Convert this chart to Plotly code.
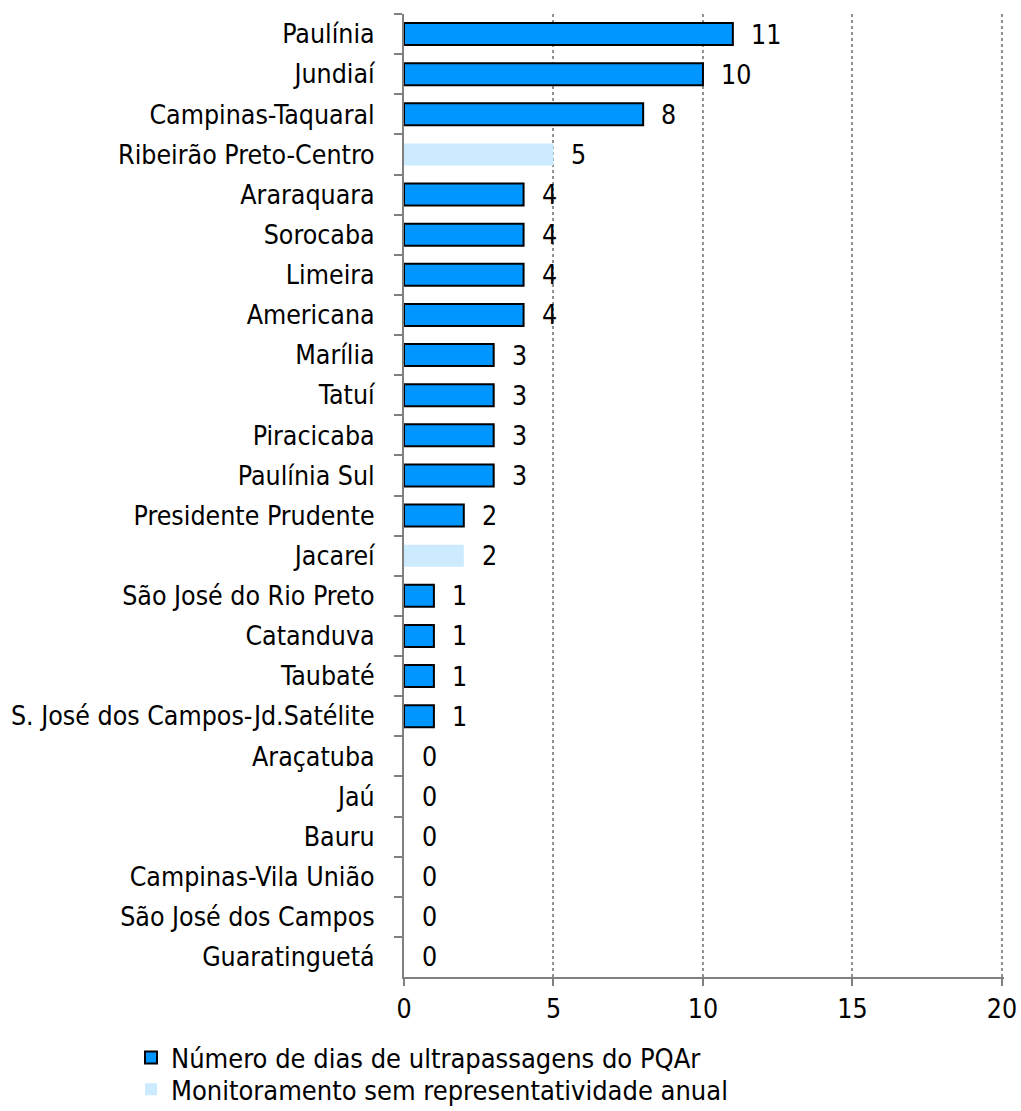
import plotly.graph_objects as go

estacoes = ["Paulínia", "Jundiaí", "Campinas-Taquaral", "Ribeirão Preto-Centro", "Araraquara",
            "Sorocaba", "Limeira", "Americana", "Marília", "Tatuí", "Piracicaba", "Paulínia Sul",
            "Presidente Prudente", "Jacareí", "São José do Rio Preto", "Catanduva", "Taubaté",
            "S. José dos Campos-Jd.Satélite", "Araçatuba", "Jaú", "Bauru", "Campinas-Vila União",
            "São José dos Campos", "Guaratinguetá"]
dias = [11, 10, 8, 5, 4, 4, 4, 4, 3, 3, 3, 3, 2, 2, 1, 1, 1, 1, 0, 0, 0, 0, 0, 0]
sem_repr = [False, False, False, True, False, False, False, False, False, False, False, False,
            False, True, False, False, False, False, False, False, False, False, False, False]
x_ticks = [0, 5, 10, 15, 20]

FONT = "DejaVu Sans Condensed, Liberation Sans Narrow, sans-serif"
FS = 26.5

normal = [None if s else v for v, s in zip(dias, sem_repr)]
light = [v if s else None for v, s in zip(dias, sem_repr)]
line_w = [2 if (v is not None and v > 0) else 0 for v in normal]

fig = go.Figure()
fig.add_trace(go.Bar(
    y=estacoes, x=normal, orientation="h", name="Número de dias de ultrapassagens do PQAr",
    marker=dict(color="#0096FF", line=dict(color="black", width=line_w)), legend="legend",
))
fig.add_trace(go.Bar(
    y=estacoes, x=light, orientation="h", name="Monitoramento sem representatividade anual",
    marker=dict(color="#CCEBFF", line=dict(width=0)), legend="legend2",
))

for e, v in zip(estacoes, dias):
    fig.add_annotation(x=v, y=e, text=str(v), showarrow=False, xanchor="left",
                       xshift=16, font=dict(size=FS, color="black", family=FONT))

leg_common = dict(orientation="v", x=-0.455, xanchor="left", yanchor="middle",
                  font=dict(size=27, family=FONT), bgcolor="rgba(0,0,0,0)", itemwidth=30)

fig.update_layout(
    width=1021, height=1111,
    margin=dict(l=404, r=17, t=14, b=134, autoexpand=False),
    paper_bgcolor="white", plot_bgcolor="white",
    barmode="overlay", bargap=0.45,
    font=dict(family=FONT, size=FS, color="black"),
    showlegend=True,
    legend=dict(y=-0.084, **leg_common),
    legend2=dict(y=-0.117, **leg_common),
)
fig.update_xaxes(
    range=[0, 20.07], tickvals=x_ticks, showgrid=True, gridcolor="#909090", griddash="dot",
    gridwidth=2, showline=True, linecolor="#808080", linewidth=2, ticks="outside",
    ticklen=7, tickcolor="#808080", tickwidth=2, zeroline=False, automargin=False,
    tickfont=dict(size=FS, family=FONT),
)
fig.update_yaxes(
    categoryorder="array", categoryarray=estacoes, autorange="reversed",
    showline=True, linecolor="#808080", linewidth=2, ticks="outside", ticklen=8,
    tickcolor="#808080", tickwidth=2, tickson="boundaries", showgrid=False, automargin=False,
    ticklabelstandoff=22, tickfont=dict(size=FS, family=FONT),
)

fig.write_html(
    "out.html",
    config={"displayModeBar": False},
    post_script="document.body.style.margin='0';document.body.style.overflow='hidden';",
)
